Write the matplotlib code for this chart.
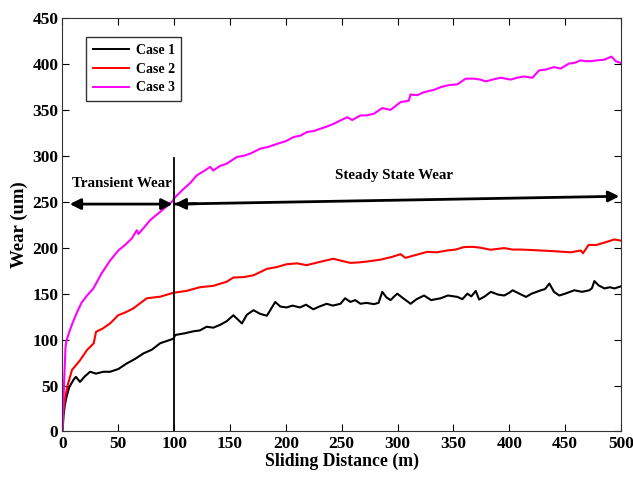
import matplotlib
matplotlib.use("Agg")
import matplotlib.pyplot as plt

plt.rcParams['font.family'] = ['Liberation Serif', 'DejaVu Serif']
plt.rcParams['font.weight'] = 'bold'

# Case 1 (black)
case1_x = [0, 1, 2, 3.7, 6, 9.7, 12, 15.7, 20, 24.7, 30, 36.6, 42.6, 50, 57.5, 65, 72.5, 80, 87.4, 99.4, 100.9,
           110, 117, 123, 129, 135, 141, 147, 153, 160.7, 165, 171, 177, 183, 190.5, 195, 200.6, 206, 212.6, 218,
           224.5, 230, 236.5, 242, 248.9, 253, 257.8, 262, 266.8, 272, 278.8, 283, 286.3, 290, 293.7, 297, 299.7,
           305, 311.7, 317, 323.7, 330, 338.6, 345, 353.6, 358, 362.5, 366, 370, 373, 378, 383.5, 390, 395.5,
           400, 403, 409, 415, 420, 428.4, 432, 435.9, 440, 444.8, 450, 458.3, 465, 471.7, 474, 476.2, 480,
           485.2, 490, 494.2, 500]
case1_y = [0, 18, 28, 38, 48, 56, 59.5, 54, 60, 65, 63, 65, 65, 68, 74, 79, 85, 89, 96, 101, 105,
           107, 109, 110, 114, 113, 116, 120, 126.5, 117.6, 127, 132, 128, 126, 141, 136, 135, 137, 135, 138,
           133, 136, 139, 137, 139, 145, 141, 143, 139, 140, 138.6, 140, 152, 146, 143, 147, 150,
           145, 139, 144, 148, 143, 145, 148, 146.5, 144, 150, 147, 153, 143.6, 147, 152, 149, 148,
           151, 153.7, 150, 146.5, 150, 153.7, 155, 161, 152, 148, 150, 153.7, 152, 153.7, 156, 163.7, 159,
           155.7, 157, 155.7, 158]

# Case 2 (red)
case2_x = [0, 1, 2.5, 5, 8.5, 12, 16, 22, 28, 30, 36, 42.6, 50, 57, 63.5, 70, 75.5, 87.4, 99.4, 111, 123, 135,
           147, 153, 162, 171, 183, 192, 200.6, 210, 218.5, 230.5, 242.5, 248.9, 257.8, 265, 272.8, 284.7, 295,
           302.7, 307, 316, 326.5, 335, 344.4, 352, 359.4, 367, 374.3, 383.3, 395.3, 403, 410, 420, 428, 436,
           443, 455, 464, 466, 471, 478, 485, 494, 500]
case2_y = [5, 25, 38, 52, 67, 72, 78, 88.7, 96, 108.5, 112, 117.6, 126.6, 130, 134, 140, 145, 146.7, 151, 153, 157,
           158.5, 163, 167.6, 168, 170, 177, 179, 182, 183, 181, 184.6, 188, 186, 183.5, 184, 185, 187, 190,
           193, 189, 192, 195.5, 195, 197, 198, 200.7, 201, 200, 197.8, 199.6, 198, 198, 197.5, 197, 196.5,
           196, 195, 197, 194, 203, 203, 205.5, 209, 207.7]

# Case 3 (magenta)
case3_x = [0, 0.8, 1.5, 2, 2.7, 3.7, 6, 9, 12.7, 17, 22, 27.6, 35, 42.6, 50, 56, 62, 66.5, 68, 73, 78.5, 87.4,
           98, 100.9, 108.4, 114, 120.3, 126, 132.3, 135, 141, 147, 156, 162, 168, 177, 185, 192, 200, 207,
           213, 219, 225, 231, 237, 243, 248.9, 254.9, 259.4, 266.8, 272, 278.8, 286.3, 293.7, 302.7, 310,
           311.6, 317.6, 323, 328, 333, 338.6, 346, 353.5, 361, 368.5, 374, 379, 385, 392.3, 401.3, 407, 413.3,
           420.7, 426.7, 433, 440, 446, 453.5, 458, 464, 468, 473, 479, 485, 491.5, 495.4, 500]
case3_y = [0, 30, 55, 70, 92, 99.5, 108, 118, 128.8, 140, 148, 155.6, 172, 186, 197, 203, 210, 219, 215, 222,
           230, 239, 250, 255, 264, 270, 278.8, 283, 288, 284, 289, 291.5, 298.7, 300, 302.3, 307.8, 310, 313,
           316, 320.5, 322, 326, 327, 329.6, 332, 335, 338.6, 342, 339, 344, 344, 345.8, 352, 350, 358.5, 360,
           366.8, 366, 369, 370.5, 372, 374.8, 377, 377.8, 384, 384, 383, 381, 383, 385, 383, 385, 386.4,
           385, 393, 394, 396.6, 395, 400.5, 401, 404, 403, 403, 404, 404.6, 408, 403, 401]

series_labels = ['Case 1', 'Case 2', 'Case 3']
x_ticks = [0, 50, 100, 150, 200, 250, 300, 350, 400, 450, 500]
y_ticks = [0, 50, 100, 150, 200, 250, 300, 350, 400, 450]

fig = plt.figure(figsize=(6.33, 4.78), dpi=100)
ax = fig.add_axes([0.0987, 0.0973, 0.8823, 0.865])

ax.plot(case1_x, case1_y, color='black', lw=1.5, label=series_labels[0])
ax.plot(case2_x, case2_y, color='#ff0000', lw=1.5, label=series_labels[1])
ax.plot(case3_x, case3_y, color='#ff00ff', lw=1.5, label=series_labels[2])

# vertical divider at 100 m
ax.plot([100, 100], [0, 298], color='black', lw=1.3)

# arrows
ax.annotate('', xy=(6.5, 247.5), xytext=(98.5, 247.5),
            arrowprops=dict(arrowstyle='<|-|>', color='black', lw=2.0, mutation_scale=16, shrinkA=0, shrinkB=0))
ax.annotate('', xy=(498.5, 256), xytext=(100.4, 247.5),
            arrowprops=dict(arrowstyle='-|>', color='black', lw=2.0, mutation_scale=16, shrinkA=0, shrinkB=0))
ax.annotate('', xy=(100.4, 247.5), xytext=(120, 247.9),
            arrowprops=dict(arrowstyle='-|>', color='black', lw=2.0, mutation_scale=16, shrinkA=0, shrinkB=0))

ax.text(53, 270, 'Transient Wear', ha='center', va='center', fontsize=10.8, fontweight='bold')
ax.text(297, 279, 'Steady State Wear', ha='center', va='center', fontsize=10.8, fontweight='bold')

ax.set_xlim(0, 500)
ax.set_ylim(0, 450)
ax.set_xticks(x_ticks)
ax.set_yticks(y_ticks)
ax.tick_params(direction='in', top=True, right=True, length=5, width=0.8, labelsize=12.5, pad=3)
for lab in ax.get_xticklabels() + ax.get_yticklabels():
    lab.set_fontweight('bold')
ax.set_xlabel('Sliding Distance (m)', fontsize=12.8, fontweight='bold', labelpad=1)
ax.set_ylabel('Wear (um)', fontsize=13.5, fontweight='bold', labelpad=3)
for s in ax.spines.values():
    s.set_linewidth(0.8)
    s.set_color('#333333')

leg = ax.legend(loc='upper left', bbox_to_anchor=(0.043, 0.953), fontsize=10, frameon=True, fancybox=False,
                edgecolor='black', handlelength=2.6, borderpad=0.45, labelspacing=0.42, handletextpad=0.5,
                borderaxespad=0)
leg.get_frame().set_linewidth(1.0)
for t in leg.get_texts():
    t.set_fontweight('bold')
for l in leg.get_lines():
    l.set_linewidth(1.4)

fig.savefig('out.png', dpi=100)
